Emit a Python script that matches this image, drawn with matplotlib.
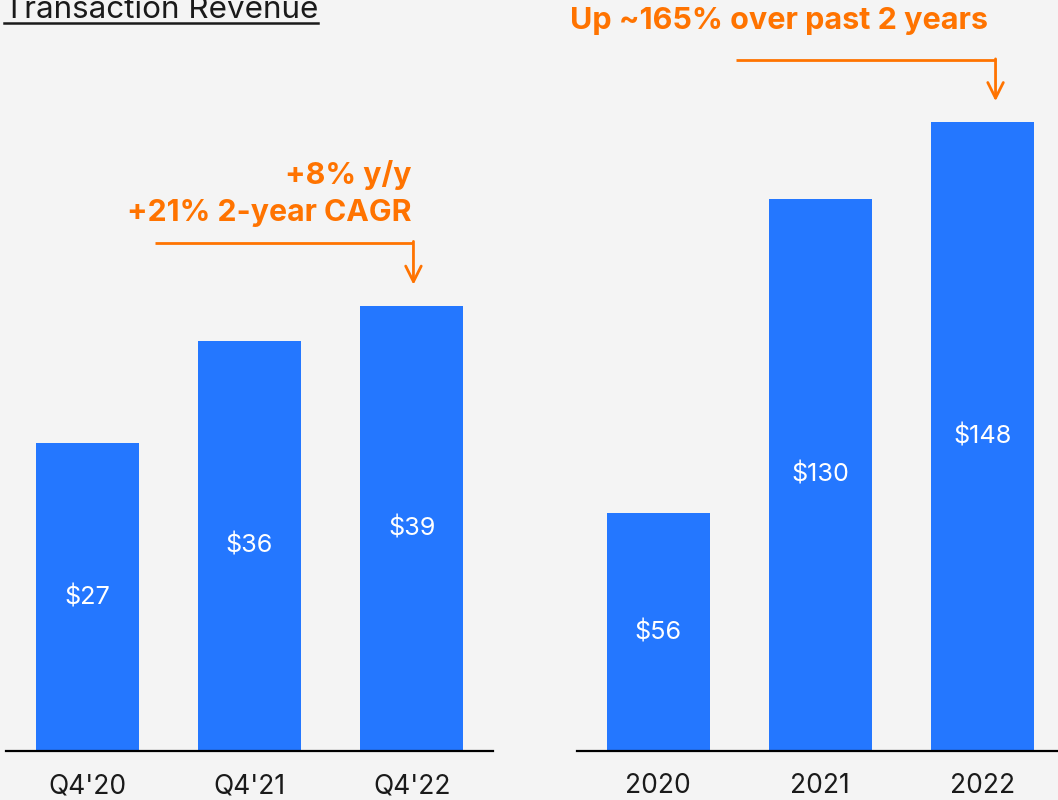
import matplotlib.pyplot as plt
from matplotlib.lines import Line2D

plt.rcParams['font.family'] = ['Inter', 'DejaVu Sans']

# Data
quarters = ["Q4'20", "Q4'21", "Q4'22"]
quarter_rev = [27, 36, 39]
years = ['2020', '2021', '2022']
year_rev = [56, 130, 148]

BLUE = '#2477ff'
ORANGE = '#ff7300'
BG = '#f4f4f4'

W, H = 1058, 800
fig = plt.figure(figsize=(W / 100, H / 100), dpi=100, facecolor=BG)

ax1 = fig.add_axes([6 / W, 49 / H, 487 / W, 751 / H])
ax2 = fig.add_axes([577 / W, 49 / H, 481 / W, 751 / H])


def style(ax, labels, values, ymax, xmax):
    ax.set_facecolor(BG)
    x = range(len(labels))
    bars = ax.bar(x, values, width=0.635, color=BLUE)
    for b, v in zip(bars, values):
        ax.text(b.get_x() + b.get_width() / 2, v / 2, f'${v}', ha='center', va='center',
                color='white', fontsize=18.2)
    ax.set_xticks(list(x))
    ax.set_xticklabels(labels, fontsize=19, color='#1a1a1a')
    ax.tick_params(axis='x', length=0, pad=16)
    ax.set_yticks([])
    ax.set_xlim(-0.5, xmax)
    ax.set_ylim(0, ymax)
    for s in ['top', 'left', 'right']:
        ax.spines[s].set_visible(False)
    ax.spines['bottom'].set_linewidth(1.6)
    ax.spines['bottom'].set_color('black')


style(ax1, quarters, quarter_rev, 751 / 11.4, 2.5)
style(ax2, years, year_rev, 751 / 4.25, 2.465)

# Left annotation
ax1.text(2.0, quarter_rev[2] + 11.5, '+8% y/y', ha='right', va='center',
         color=ORANGE, fontsize=21.8, fontweight='bold')
ax1.text(2.0, quarter_rev[2] + 8.2, '+21% 2-year CAGR', ha='right', va='center',
         color=ORANGE, fontsize=21.8, fontweight='bold')
top1 = quarter_rev[2] + 5.6
ax1.plot([0.415, 2.01], [top1, top1], color=ORANGE, lw=2, solid_capstyle='butt')
ax1.annotate('', xy=(2.01, quarter_rev[2] + 1.9), xytext=(2.01, top1 + 0.1),
             arrowprops=dict(arrowstyle='->', color=ORANGE, lw=2,
                             mutation_scale=28, shrinkA=0, shrinkB=0))

# Right annotation
ax2.text(-0.545, year_rev[2] + 23.8, 'Up ~165% over past 2 years', ha='left', va='center',
         color=ORANGE, fontsize=22, fontweight='bold', clip_on=False)
top2 = year_rev[2] + 14.6
ax2.plot([0.48, 2.08], [top2, top2], color=ORANGE, lw=2, solid_capstyle='butt')
ax2.annotate('', xy=(2.08, year_rev[2] + 4.9), xytext=(2.08, top2 + 0.25),
             arrowprops=dict(arrowstyle='->', color=ORANGE, lw=2,
                             mutation_scale=28, shrinkA=0, shrinkB=0))

# Title, underlined, partly cut off at the top
title = fig.text(4 / W, 1 - 18 / H, 'Transaction Revenue', ha='left', va='baseline',
                 fontsize=22.6, color='#1a1a1a')
fig.canvas.draw()
bb = title.get_window_extent().transformed(fig.transFigure.inverted())
fig.add_artist(Line2D([bb.x0, bb.x1], [1 - 23 / H, 1 - 23 / H], color='#1a1a1a',
                      lw=1.8, transform=fig.transFigure))

fig.savefig('out.png', dpi=100, facecolor=BG)
